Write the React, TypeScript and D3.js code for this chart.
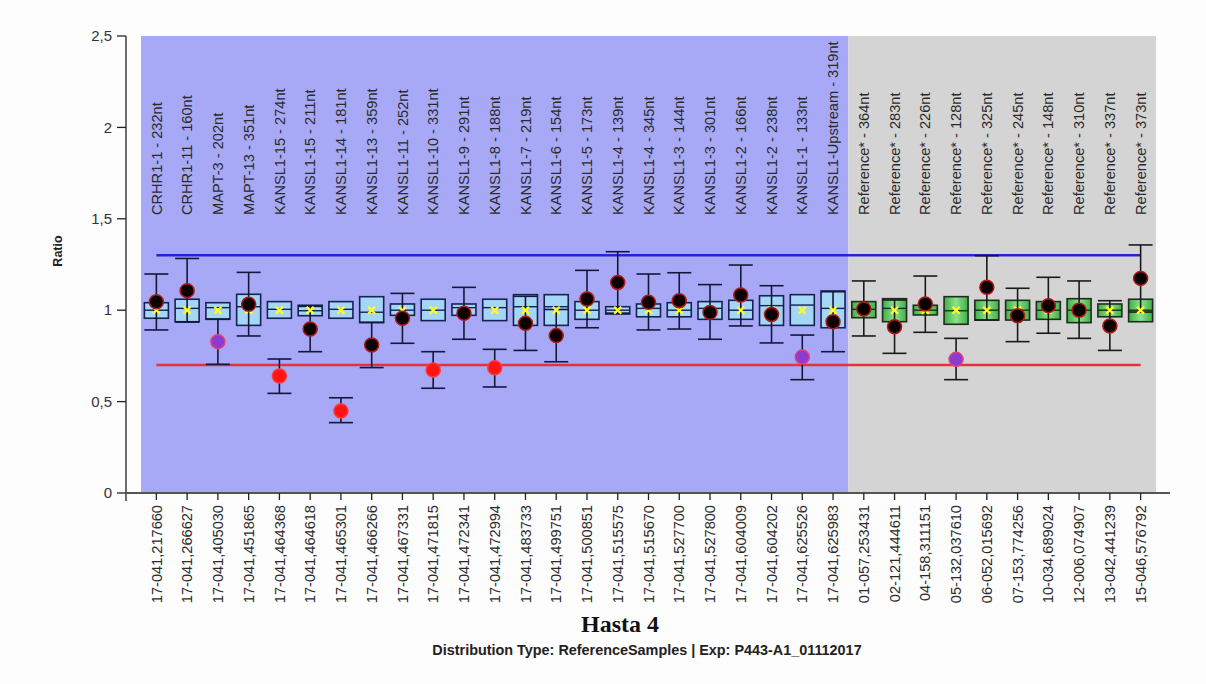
import React from "react";
import * as d3 from "d3";

const topLabels = [
  "CRHR1-1 - 232nt", "CRHR1-11 - 160nt", "MAPT-3 - 202nt", "MAPT-13 - 351nt",
  "KANSL1-15 - 274nt", "KANSL1-15 - 211nt", "KANSL1-14 - 181nt", "KANSL1-13 - 359nt",
  "KANSL1-11 - 252nt", "KANSL1-10 - 331nt", "KANSL1-9 - 291nt", "KANSL1-8 - 188nt",
  "KANSL1-7 - 219nt", "KANSL1-6 - 154nt", "KANSL1-5 - 173nt", "KANSL1-4 - 139nt",
  "KANSL1-4 - 345nt", "KANSL1-3 - 144nt", "KANSL1-3 - 301nt", "KANSL1-2 - 166nt",
  "KANSL1-2 - 238nt", "KANSL1-1 - 133nt", "KANSL1-Upstream - 319nt",
  "Reference* - 364nt", "Reference* - 283nt", "Reference* - 226nt", "Reference* - 128nt",
  "Reference* - 325nt", "Reference* - 245nt", "Reference* - 148nt", "Reference* - 310nt",
  "Reference* - 337nt", "Reference* - 373nt",
];

const bottomLabels = [
  "17-041,217660", "17-041,266627", "17-041,405030", "17-041,451865", "17-041,464368",
  "17-041,464618", "17-041,465301", "17-041,466266", "17-041,467331", "17-041,471815",
  "17-041,472341", "17-041,472994", "17-041,483733", "17-041,499751", "17-041,500851",
  "17-041,515575", "17-041,515670", "17-041,527700", "17-041,527800", "17-041,604009",
  "17-041,604202", "17-041,625526", "17-041,625983",
  "01-057,253431", "02-121,444611", "04-158,311151", "05-132,037610", "06-052,015692",
  "07-153,774256", "10-034,689024", "12-006,074907", "13-042,441239", "15-046,576792",
];

// reference box (lower edge, median, upper edge)
const boxLow = [0.956, 0.937, 0.95, 0.917, 0.956, 0.97, 0.956, 0.932, 0.972, 0.943, 0.972, 0.943, 0.917, 0.917, 0.95, 0.979, 0.964, 0.964, 0.95, 0.95, 0.917, 0.917, 0.904, 0.959, 0.937, 0.974, 0.923, 0.946, 0.946, 0.95, 0.932, 0.964, 0.937];
const boxMedian = [1.0, 1.01, 1.014, 1.019, 1.005, 0.997, 1.005, 0.989, 1.0, 1.0, 1.014, 1.014, 1.019, 1.019, 1.0, 1.0, 1.01, 1.0, 1.01, 1.0, 1.025, 1.028, 1.01, 1.005, 1.01, 1.0, 0.997, 1.0, 1.0, 1.0, 1.0, 1.0, 1.0];
const boxHigh = [1.041, 1.06, 1.041, 1.087, 1.047, 1.027, 1.047, 1.074, 1.034, 1.06, 1.034, 1.06, 1.085, 1.085, 1.047, 1.019, 1.034, 1.041, 1.047, 1.054, 1.079, 1.085, 1.105, 1.047, 1.063, 1.027, 1.074, 1.054, 1.054, 1.047, 1.063, 1.034, 1.06];
const refMean = 1.0;

// sample ratio and its error bar
const ratio = [1.046, 1.107, 0.828, 1.032, 0.64, 0.897, 0.449, 0.81, 0.956, 0.673, 0.983, 0.685, 0.928, 0.861, 1.061, 1.152, 1.043, 1.052, 0.988, 1.083, 0.977, 0.744, 0.937, 1.007, 0.91, 1.034, 0.731, 1.125, 0.97, 1.025, 1.0, 0.914, 1.174];
const errLow = [0.892, 0.935, 0.704, 0.859, 0.545, 0.773, 0.385, 0.686, 0.819, 0.573, 0.841, 0.58, 0.78, 0.718, 0.904, 0.984, 0.892, 0.897, 0.841, 0.914, 0.821, 0.62, 0.773, 0.859, 0.764, 0.879, 0.62, 0.946, 0.828, 0.874, 0.846, 0.78, 0.99];
const errHigh = [1.198, 1.283, 0.952, 1.207, 0.733, 1.021, 0.521, 0.934, 1.092, 0.773, 1.125, 0.786, 1.076, 1.004, 1.218, 1.32, 1.198, 1.205, 1.14, 1.247, 1.134, 0.864, 1.101, 1.16, 1.056, 1.187, 0.846, 1.298, 1.12, 1.18, 1.16, 1.052, 1.357];
// n = normal, r = below threshold, p = ambiguous
const status = ["n", "n", "p", "n", "r", "n", "r", "n", "n", "r", "n", "r", "n", "n", "n", "n", "n", "n", "n", "n", "n", "p", "n", "n", "n", "n", "p", "n", "n", "n", "n", "n", "n"];

const sampleCount = 23;
const upperThreshold = 1.3;
const lowerThreshold = 0.7;
const yTicks = [0, 0.5, 1, 1.5, 2, 2.5];

const W = 1206;
const H = 684;
const plotLeft = 141;
const plotRight = 1156;
const plotTop = 36;
const plotBottom = 493;
const axisX = 126;

export default function App() {
  const idx = d3.range(topLabels.length);
  const x = d3.scaleBand<number>().domain(idx).range([plotLeft, plotRight]).padding(0);
  const y = d3.scaleLinear().domain([0, 2.5]).range([plotBottom, plotTop]);
  const cx = (i: number) => (x(i) as number) + x.bandwidth() / 2;
  const boxHalf = 12;
  const capHalf = 12;
  const fmt = (v: number) => String(v).replace(".", ",");
  const sepX = x(sampleCount) as number;
  const firstC = cx(0);
  const lastC = cx(idx.length - 1);

  return (
    <svg
      width={W}
      height={H}
      style={{ position: "absolute", left: 0, top: 0, background: "#fdfdfd" }}
      fontFamily="'Liberation Sans', Arial, sans-serif"
    >
      <defs>
        <linearGradient id="greenBox" x1="0" x2="1" y1="0" y2="0">
          <stop offset="0" stopColor="#3fae45" />
          <stop offset="0.5" stopColor="#8ee28c" />
          <stop offset="1" stopColor="#3fae45" />
        </linearGradient>
      </defs>
      <rect x={0} y={0} width={W} height={H} fill="#fdfdfd" />
      {/* backgrounds */}
      <rect x={plotLeft} y={plotTop} width={sepX - plotLeft} height={plotBottom - plotTop} fill="#a7a9f7" />
      <rect x={sepX} y={plotTop} width={plotRight - sepX} height={plotBottom - plotTop} fill="#d4d4d4" />

      {/* top labels */}
      {idx.map((i) => (
        <text
          key={"tl" + i}
          transform={`translate(${cx(i)},215) rotate(-90)`}
          dy="0.35em"
          fontSize={14.6}
          fill="#2a2a2a"
          textAnchor="start"
        >
          {topLabels[i]}
        </text>
      ))}

      {/* thresholds */}
      <line x1={firstC} x2={lastC} y1={y(upperThreshold)} y2={y(upperThreshold)} stroke="#2424d6" strokeWidth={2.5} />
      <line x1={firstC} x2={lastC} y1={y(lowerThreshold)} y2={y(lowerThreshold)} stroke="#e8303c" strokeWidth={2.5} />

      {/* boxes */}
      {idx.map((i) => {
        const ref = i >= sampleCount;
        return (
          <g key={"b" + i}>
            <rect
              x={cx(i) - boxHalf}
              y={y(boxHigh[i])}
              width={boxHalf * 2}
              height={y(boxLow[i]) - y(boxHigh[i])}
              fill={ref ? "url(#greenBox)" : "#a6d6f6"}
              stroke={ref ? "#1e2e1e" : "#152352"}
              strokeWidth={1.6}
            />
            <line
              x1={cx(i) - boxHalf}
              x2={cx(i) + boxHalf}
              y1={y(boxMedian[i])}
              y2={y(boxMedian[i])}
              stroke={ref ? "#1e2e1e" : "#152352"}
              strokeWidth={1.4}
            />
          </g>
        );
      })}

      {/* error bars */}
      {idx.map((i) => {
        const ref = i >= sampleCount;
        const c = ref ? "#1a1a1a" : "#15173a";
        return (
          <g key={"e" + i} stroke={c} strokeWidth={1.6}>
            <line x1={cx(i)} x2={cx(i)} y1={y(errLow[i])} y2={y(errHigh[i])} />
            <line x1={cx(i) - capHalf} x2={cx(i) + capHalf} y1={y(errLow[i])} y2={y(errLow[i])} />
            <line x1={cx(i) - capHalf} x2={cx(i) + capHalf} y1={y(errHigh[i])} y2={y(errHigh[i])} />
          </g>
        );
      })}

      {/* mean markers */}
      {idx.map((i) => (
        <g key={"m" + i} stroke="#ffff1a" strokeWidth={2.2}>
          <line x1={cx(i) - 3.5} x2={cx(i) + 3.5} y1={y(refMean) - 3.5} y2={y(refMean) + 3.5} />
          <line x1={cx(i) - 3.5} x2={cx(i) + 3.5} y1={y(refMean) + 3.5} y2={y(refMean) - 3.5} />
        </g>
      ))}

      {/* dots */}
      {idx.map((i) => {
        const s = status[i];
        const fill = s === "r" ? "#ff1414" : s === "p" ? "#8c3ad0" : "#0a0000";
        const stroke = s === "r" ? "#ff3a3a" : s === "p" ? "#e0407a" : "#b01818";
        return <circle key={"d" + i} cx={cx(i)} cy={y(ratio[i])} r={7} fill={fill} stroke={stroke} strokeWidth={1.5} />;
      })}

      {/* y axis */}
      <line x1={axisX} x2={axisX} y1={plotTop} y2={plotBottom + 8} stroke="#222" strokeWidth={1.3} />
      {yTicks.map((t) => (
        <g key={"yt" + t}>
          <line x1={axisX - 9} x2={axisX} y1={y(t)} y2={y(t)} stroke="#222" strokeWidth={1.3} />
          <text x={axisX - 14} y={y(t)} dy="0.35em" textAnchor="end" fontSize={15} fill="#333">
            {fmt(t)}
          </text>
        </g>
      ))}
      <text
        transform={`translate(58,251) rotate(-90)`}
        textAnchor="middle"
        dy="0.35em"
        fontSize={12.5}
        fontWeight="bold"
        fill="#222"
      >
        Ratio
      </text>

      {/* x axis */}
      <line x1={axisX} x2={1170} y1={plotBottom} y2={plotBottom} stroke="#555" strokeWidth={2} />
      {idx.map((i) => (
        <g key={"xt" + i}>
          <line x1={cx(i)} x2={cx(i)} y1={plotBottom} y2={plotBottom + 7} stroke="#222" strokeWidth={1.3} />
          <text
            transform={`translate(${cx(i)},${plotBottom + 12}) rotate(-90)`}
            dy="0.35em"
            textAnchor="end"
            fontSize={14.6}
            fill="#2a2a2a"
          >
            {bottomLabels[i]}
          </text>
        </g>
      ))}

      {/* titles */}
      <text x={620} y={632} textAnchor="middle" fontFamily="'Liberation Serif', 'Times New Roman', serif" fontWeight="bold" fontSize={24} fill="#111">
        Hasta 4
      </text>
      <text x={647} y={655} textAnchor="middle" fontWeight="bold" fontSize={14.4} fill="#222">
        Distribution Type: ReferenceSamples | Exp: P443-A1_01112017
      </text>
    </svg>
  );
}
